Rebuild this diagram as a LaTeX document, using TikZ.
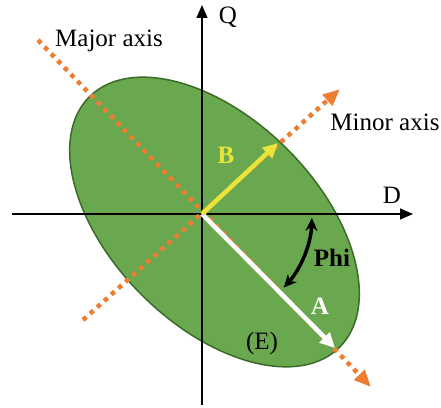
\documentclass[tikz,border=0pt]{standalone}
\usepackage{fontspec}
\setmainfont{Liberation Serif}
\usetikzlibrary{arrows.meta}
\definecolor{cgreen}{HTML}{6AA84F}
\definecolor{cdkgreen}{HTML}{3B6B28}
\definecolor{corange}{HTML}{ED7D31}
\definecolor{cyellow}{HTML}{E8E43A}
\tikzset{
  every picture/.style={x=1pt, y=1pt, font=\fontsize{25}{29}\selectfont},
  axis/.style={-{Triangle[length=13pt, width=11pt]}, line width=1.2pt},
  dotaxis/.style={draw=corange, line width=4.5pt, dash pattern=on 4.5pt off 5pt, -{Triangle[length=17pt, width=14pt]}},
  vec/.style={draw=#1, line width=4.5pt, -{Triangle[length=15pt, width=14pt]}},
  lab/.style={font=\fontsize{25}{29}\selectfont\bfseries, text=#1},
  lab/.default=black,
}
\begin{document}
\begin{tikzpicture}
  \useasboundingbox (-202,-193) rectangle (239,214);
  \coordinate (O) at (0,0);
  \coordinate (C) at (12.5,-8);

  % ellipse
  \draw[draw=cdkgreen, fill=cgreen, line width=1.5pt] (C) ellipse[x radius=177, y radius=103, rotate=-45];

  % D-Q axes
  \coordinate (xl) at (-190,0);  \coordinate (xr) at (211,0);
  \coordinate (yb) at (0,-191);  \coordinate (yt) at (0,209);
  \draw[axis] (xl) -- (xr);
  \draw[axis] (yb) -- (yt);
  \node (Q) at (26,197) {Q};
  \node (D) at (190,19) {D};

  % major and minor axes
  \coordinate (maj1) at (-164,174); \coordinate (maj2) at (169,-173);
  \coordinate (min1) at (-119,-106); \coordinate (min2) at (138,125);
  \draw[dotaxis] (maj1) -- (maj2);
  \draw[dotaxis] (min1) -- (min2);
  \node (major) at (-93,173) {Major axis};
  \node (minor) at (183,92) {Minor axis};

  % A and B
  \coordinate (Atip) at (133,-134);
  \coordinate (Btip) at (76,71);
  \draw[vec=white] (O) -- (Atip);
  \draw[vec=cyellow] (O) -- (Btip);
  \node[lab=cyellow] (B) at (24,59) {B};
  \node[lab=white] (A) at (118,-92) {A};

  % angle
  \draw[line width=3.5pt, {Stealth[length=13pt, width=12pt]}-{Stealth[length=13pt, width=12pt]}]
    (O) ++(-2:110) arc[start angle=-2, end angle=-42, radius=110];
  \node[lab] (phi) at (130,-44) {Phi};
  \node (E) at (60,-129) {(E)};
\end{tikzpicture}
\end{document}
